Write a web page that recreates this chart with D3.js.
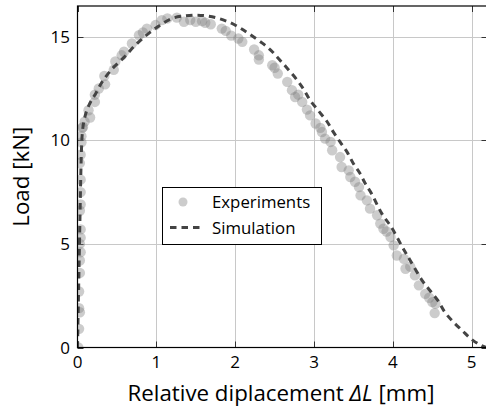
<!DOCTYPE html>
<html>
<head>
<meta charset="utf-8">
<script src="https://cdn.jsdelivr.net/npm/d3@7"></script>
<style>
  html, body { margin: 0; padding: 0; background: #fff; }
  svg { display: block; font-family: "Open Sans", Lato, "DejaVu Sans", sans-serif; }
</style>
</head>
<body>
<svg id="chart" width="486" height="415"></svg>
<script>
// Measured load–displacement points (experiments)
const expX = [0.01,0.02,0.03,0.02,0.02,0.03,0.03,0.04,0.03,0.04,0.04,0.03,0.04,0.04,0.04,0.03,0.04,0.05,0.05,0.06,
  0.07,0.14,0.16,0.22,0.22,0.34,0.35,0.46,0.48,0.59,0.69,0.78,0.88,0.99,1.07,1.14,1.26,1.35,1.43,1.50,
  1.62,1.69,1.83,1.88,2.04,2.09,2.24,2.30,2.30,2.47,2.54,2.66,2.72,2.76,2.85,2.91,2.95,3.02,3.10,3.14,
  3.21,3.23,3.33,3.35,3.44,3.46,3.57,3.59,3.67,3.71,3.80,3.84,3.88,3.97,4.01,4.05,4.14,4.16,4.28,4.33,
  4.41,4.50,4.54,4.53,
  0.09,0.27,0.56,0.83,1.58,1.95,2.50,2.80,3.08,3.52,3.92,4.22,4.46];
const expY = [0.0,0.9,1.7,1.9,2.7,3.6,4.2,4.6,5.0,5.3,5.7,6.6,6.9,7.5,8.1,8.9,9.3,9.9,10.2,10.6,
  10.64,11.45,11.1,11.85,12.2,13.1,12.7,13.4,13.8,14.27,14.67,15.07,15.39,15.56,15.8,15.88,15.92,15.72,15.8,15.72,
  15.67,15.6,15.39,15.28,14.91,14.75,14.38,14.1,13.9,13.62,13.22,12.82,12.42,12.09,11.85,11.48,11.2,10.81,10.4,10.08,
  9.92,9.52,9.19,8.71,8.55,8.23,7.74,7.34,7.1,6.7,6.38,5.98,5.73,5.33,4.93,4.44,4.28,3.8,3.48,3.0,
  2.59,2.19,2.11,1.66,
  10.9,12.5,14.1,15.2,15.75,15.05,13.5,12.2,10.6,8.0,5.6,3.9,2.4];

// Simulated response
const simX = [0,0.01,0.02,0.03,0.04,0.05,0.06,0.08,0.11,0.14,0.18,0.23,0.31,0.44,0.59,0.73,0.9,1.05,1.2,1.35,1.5,
  1.64,1.79,1.94,2.07,2.19,2.34,2.45,2.56,2.67,2.78,2.87,2.95,3.05,3.16,3.24,3.33,3.42,3.5,3.58,3.65,3.73,
  3.86,3.98,4.12,4.22,4.37,4.47,4.57,4.66,4.77,4.88,4.99,5.10,5.2];
const simY = [0,2,4,6,8,9.5,10.3,10.9,11.35,11.65,11.95,12.25,12.8,13.45,14.0,14.58,15.15,15.56,15.88,16.0,16.04,
  16.0,15.88,15.67,15.4,15.1,14.7,14.35,13.9,13.43,12.93,12.45,11.93,11.45,10.93,10.43,9.92,9.43,8.87,8.42,7.91,7.42,
  6.46,5.81,4.85,4.2,3.24,2.75,2.27,1.7,1.22,0.82,0.42,0.14,-0.02];

const xTicks = [0, 1, 2, 3, 4, 5];
const yTicks = [0, 5, 10, 15];
const legendLabels = ["Experiments", "Simulation"];

const margin = { left: 77.5, top: 6, right: 487.5, bottom: 347.5 };
const svg = d3.select("#chart");

const x = d3.scaleLinear().domain([0, 5.2]).range([margin.left, margin.right]);
const y = d3.scaleLinear().domain([0, 16.48]).range([margin.bottom, margin.top]);

svg.append("defs").append("clipPath").attr("id", "plotClip")
  .append("rect")
  .attr("x", margin.left).attr("y", margin.top)
  .attr("width", margin.right - margin.left).attr("height", margin.bottom - margin.top);

// Grid
const grid = svg.append("g").attr("stroke", "#c8c8c8").attr("stroke-width", 1);
grid.selectAll(".gx").data(xTicks.slice(1)).join("line")
  .attr("x1", d => Math.round(x(d)) + 0.5).attr("x2", d => Math.round(x(d)) + 0.5)
  .attr("y1", margin.top).attr("y2", margin.bottom);
grid.selectAll(".gy").data(yTicks.slice(1)).join("line")
  .attr("y1", d => Math.round(y(d)) + 0.5).attr("y2", d => Math.round(y(d)) + 0.5)
  .attr("x1", margin.left).attr("x2", margin.right);

// Inner tick marks on all four sides
const tk = svg.append("g").attr("stroke", "#333").attr("stroke-width", 1);
const tl = 6;
xTicks.forEach(d => {
  const px = Math.round(x(d)) + 0.5;
  tk.append("line").attr("x1", px).attr("x2", px).attr("y1", margin.bottom).attr("y2", margin.bottom - tl);
  tk.append("line").attr("x1", px).attr("x2", px).attr("y1", margin.top).attr("y2", margin.top + tl);
});
yTicks.forEach(d => {
  const py = Math.round(y(d)) + 0.5;
  tk.append("line").attr("y1", py).attr("y2", py).attr("x1", margin.left).attr("x2", margin.left + tl);
  tk.append("line").attr("y1", py).attr("y2", py).attr("x1", margin.right).attr("x2", margin.right - tl);
});

// Experiment markers
const plot = svg.append("g").attr("clip-path", "url(#plotClip)");
plot.append("g").selectAll("circle")
  .data(d3.range(expX.length))
  .join("circle")
  .attr("cx", i => x(expX[i]))
  .attr("cy", i => y(expY[i]))
  .attr("r", 5.2)
  .attr("fill", "#808080")
  .attr("fill-opacity", 0.4);

// Simulation curve
const simLine = d3.line()
  .x(i => x(simX[i]))
  .y(i => y(simY[i]))
  .curve(d3.curveCatmullRom.alpha(0.5));
plot.append("path")
  .attr("d", simLine(d3.range(simX.length)))
  .attr("fill", "none")
  .attr("stroke", "#444")
  .attr("stroke-width", 3)
  .attr("stroke-dasharray", "6.5,5");

// Frame
svg.append("rect")
  .attr("x", margin.left).attr("y", margin.top)
  .attr("width", margin.right - margin.left).attr("height", margin.bottom - margin.top)
  .attr("fill", "none").attr("stroke", "#000").attr("stroke-width", 1.2);

// Tick labels
svg.append("g").selectAll("text").data(xTicks).join("text")
  .attr("x", d => x(d)).attr("y", 368)
  .attr("text-anchor", "middle").attr("font-size", 17).attr("fill", "#000")
  .text(d => d);
svg.append("g").selectAll("text").data(yTicks).join("text")
  .attr("x", 70).attr("y", d => y(d) + 6)
  .attr("text-anchor", "end").attr("font-size", 17).attr("fill", "#000")
  .text(d => d);

// Axis labels
const xl = svg.append("text")
  .attr("x", 281).attr("y", 401)
  .attr("text-anchor", "middle").attr("font-size", 22.3).attr("fill", "#000");
xl.append("tspan").text("Relative diplacement ");
xl.append("tspan").attr("font-style", "italic").text("ΔL");
xl.append("tspan").text(" [mm]");

svg.append("text")
  .attr("transform", `translate(29,${(margin.top + margin.bottom) / 2}) rotate(-90)`)
  .attr("text-anchor", "middle").attr("font-size", 22.3).attr("fill", "#000")
  .text("Load [kN]");

// Legend
const lg = svg.append("g");
lg.append("rect").attr("x", 162.5).attr("y", 187.5).attr("width", 159).attr("height", 57)
  .attr("fill", "#fff").attr("stroke", "#000").attr("stroke-width", 1);
lg.append("circle").attr("cx", 183).attr("cy", 202).attr("r", 4.5)
  .attr("fill", "#808080").attr("fill-opacity", 0.4);
lg.append("line").attr("x1", 170).attr("x2", 202).attr("y1", 227.5).attr("y2", 227.5)
  .attr("stroke", "#444").attr("stroke-width", 3).attr("stroke-dasharray", "6.5,5");
lg.selectAll("text.lt").data(legendLabels).join("text")
  .attr("x", 212).attr("y", (d, i) => 208 + i * 25.5)
  .attr("font-size", 16.8).attr("fill", "#000")
  .text(d => d);
</script>
</body>
</html>
